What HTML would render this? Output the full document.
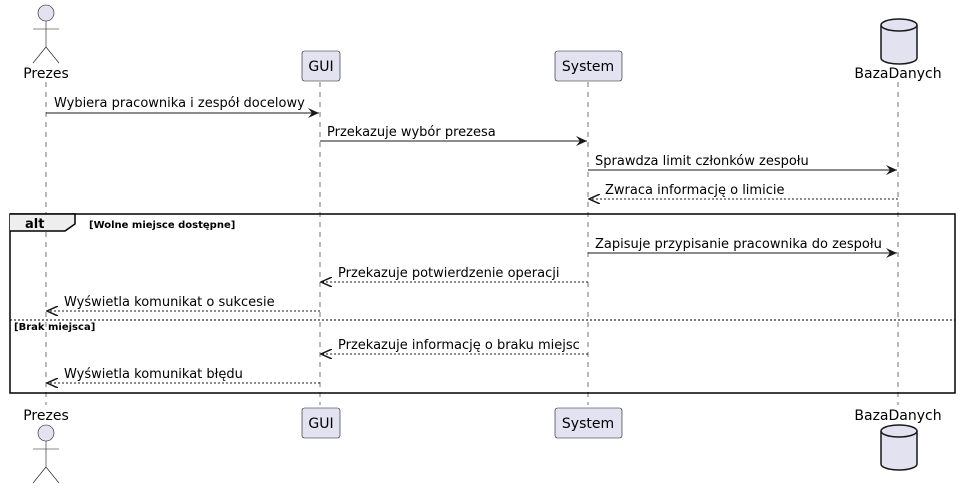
<!DOCTYPE html>
<html><head><meta charset="utf-8"><style>body{margin:0;background:#fff}svg{display:block}</style></head>
<body>
<svg width="961" height="489" xmlns="http://www.w3.org/2000/svg" font-family="DejaVu Sans, Liberation Sans, sans-serif">
<defs>
<marker id="a" markerWidth="12" markerHeight="10" refX="11" refY="5" orient="auto" markerUnits="userSpaceOnUse"><path d="M0,0 L11,5 L0,10 L4,5 Z" fill="#181818"/></marker>
<marker id="o" markerWidth="12" markerHeight="10" refX="11" refY="5" orient="auto" markerUnits="userSpaceOnUse"><path d="M0,0 L11,5 L0,10" fill="none" stroke="#181818" stroke-width="1.5"/></marker>
</defs>
<g stroke="#181818" stroke-width="0.6" stroke-dasharray="5,5">
<line x1="46" y1="82" x2="46" y2="405"/>
<line x1="320" y1="82" x2="320" y2="405"/>
<line x1="588" y1="82" x2="588" y2="405"/>
<line x1="898" y1="82" x2="898" y2="405"/>
</g>
<!-- actors -->
<g fill="#E2E2F0" stroke="#181818" stroke-width="0.6">
<circle cx="46" cy="13" r="8"/>
<line x1="46" y1="21" x2="46" y2="47"/><line x1="33" y1="29" x2="59" y2="29"/>
<line x1="46" y1="47" x2="33" y2="63"/><line x1="46" y1="47" x2="59" y2="63"/>
<circle cx="46" cy="433" r="8"/>
<line x1="46" y1="441" x2="46" y2="467"/><line x1="33" y1="449" x2="59" y2="449"/>
<line x1="46" y1="467" x2="33" y2="483"/><line x1="46" y1="467" x2="59" y2="483"/>
<rect x="302" y="51" width="38" height="30" rx="2.5"/>
<rect x="555" y="51" width="67" height="30" rx="2.5"/>
<rect x="302" y="408" width="38" height="30" rx="2.5"/>
<rect x="555" y="408" width="67" height="30" rx="2.5"/>
</g>
<g fill="#E2E2F0" stroke="#181818" stroke-width="1.5">
<path d="M881,25 v33 a18,6 0 0 0 36,0 v-33"/>
<ellipse cx="899" cy="25" rx="18" ry="6"/>
<path d="M881,431 v33 a18,6 0 0 0 36,0 v-33"/>
<ellipse cx="899" cy="431" rx="18" ry="6"/>
</g>
<g font-size="14" fill="#000" text-anchor="middle">
<text x="46" y="78">Prezes</text><text x="321" y="71">GUI</text><text x="588" y="71">System</text><text x="898" y="78">BazaDanych</text>
<text x="46" y="420">Prezes</text><text x="321" y="428">GUI</text><text x="588" y="428">System</text><text x="898" y="420">BazaDanych</text>
</g>
<!-- alt frame -->
<rect x="10" y="214" width="945" height="179" fill="none" stroke="#000" stroke-width="1.5"/>
<path d="M10,214 H75 V224 L65,231 H10" fill="#EEEEEE" stroke="#000" stroke-width="1.5"/>
<line x1="10" y1="320" x2="955" y2="320" stroke="#000" stroke-width="1" stroke-dasharray="2,2"/>
<g font-weight="bold" font-size="10" fill="#000">
<text x="25" y="228" font-size="13">alt</text>
<text x="89" y="228">[Wolne miejsce dostępne]</text>
<text x="14" y="330">[Brak miejsca]</text>
</g>
<!-- messages -->
<g stroke="#181818" stroke-width="1">
<line x1="46" y1="113" x2="319" y2="113" marker-end="url(#a)"/>
<line x1="320" y1="141" x2="587" y2="141" marker-end="url(#a)"/>
<line x1="588" y1="170" x2="897" y2="170" marker-end="url(#a)"/>
<line x1="898" y1="199" x2="589" y2="199" stroke-dasharray="2,2" marker-end="url(#o)"/>
<line x1="588" y1="253" x2="897" y2="253" marker-end="url(#a)"/>
<line x1="588" y1="282" x2="321" y2="282" stroke-dasharray="2,2" marker-end="url(#o)"/>
<line x1="320" y1="311" x2="47" y2="311" stroke-dasharray="2,2" marker-end="url(#o)"/>
<line x1="588" y1="354" x2="321" y2="354" stroke-dasharray="2,2" marker-end="url(#o)"/>
<line x1="320" y1="383" x2="47" y2="383" stroke-dasharray="2,2" marker-end="url(#o)"/>
</g>
<g font-size="13" fill="#000">
<text x="54" y="107">Wybiera pracownika i zespół docelowy</text>
<text x="327" y="136">Przekazuje wybór prezesa</text>
<text x="595" y="165">Sprawdza limit członków zespołu</text>
<text x="605" y="194">Zwraca informację o limicie</text>
<text x="595" y="248">Zapisuje przypisanie pracownika do zespołu</text>
<text x="338" y="277">Przekazuje potwierdzenie operacji</text>
<text x="64" y="306">Wyświetla komunikat o sukcesie</text>
<text x="338" y="349">Przekazuje informację o braku miejsc</text>
<text x="64" y="378">Wyświetla komunikat błędu</text>
</g>
</svg>
</body></html>
